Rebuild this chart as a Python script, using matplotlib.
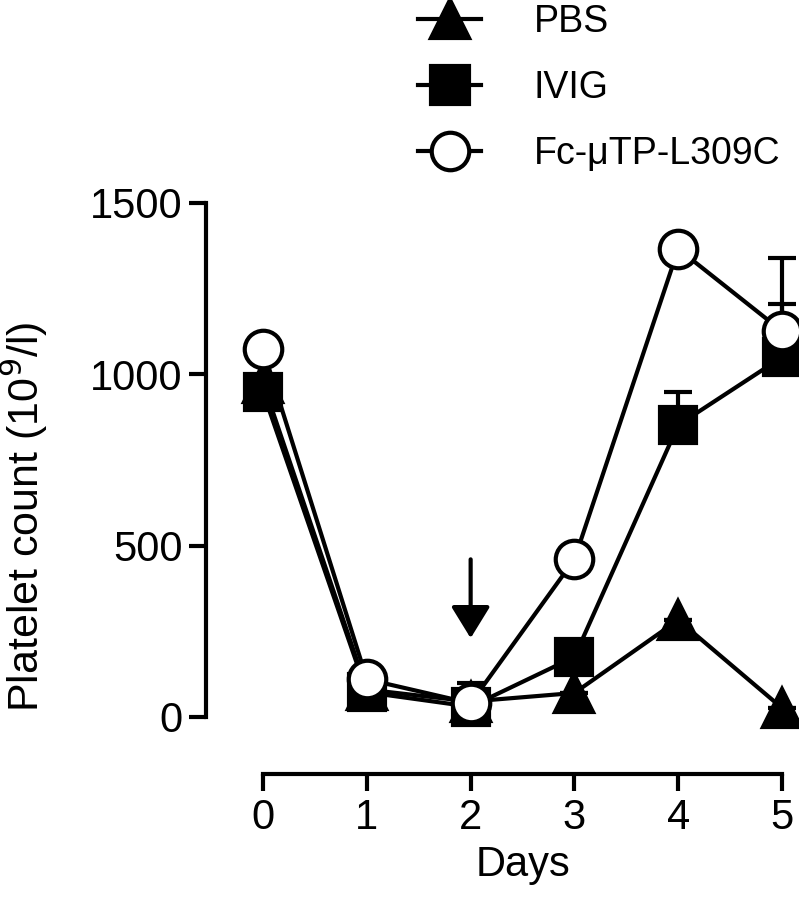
import matplotlib
matplotlib.use("Agg")
import matplotlib.pyplot as plt
import numpy as np

plt.rcParams['font.family'] = ['Liberation Sans', 'DejaVu Sans']

days = [0, 1, 2, 3, 4, 5]
pbs = [975, 80, 45, 70, 283, 26]
ivig = [948, 72, 30, 175, 852, 1050]
fc = [1073, 110, 40, 460, 1366, 1126]
# upper error bars only
pbs_err = [0, 0, 0, 0, 0, 0]
ivig_err = [0, 0, 0, 0, 95, 155]
fc_err = [0, 0, 60, 0, 0, 214]

fig = plt.figure(figsize=(7.99, 9.18), dpi=100)
ax = fig.add_axes([0.3292, 0.2190, 0.6496, 0.5599])

lw = 3.0
ms = 27
series = [(pbs, pbs_err, '^', 'black', 'PBS'),
          (ivig, ivig_err, 's', 'black', 'IVIG'),
          (fc, fc_err, 'o', 'white', 'Fc-\u03bcTP-L309C')]
for i, (vals, err, mk, fcol, lab) in enumerate(series):
    z = 3 + i
    ax.errorbar(days, vals, yerr=[np.zeros(len(err)), err], fmt='none',
                ecolor='black', elinewidth=lw, capsize=10, capthick=lw,
                zorder=z, clip_on=False)
    ax.plot(days, vals, color='black', lw=lw, marker=mk, markersize=ms if mk != 's' else ms * 0.95,
            markerfacecolor=fcol, markeredgecolor='black', markeredgewidth=lw,
            label=lab, zorder=z + 0.5, clip_on=False)

# treatment arrow at day 2
ax.annotate('', xy=(2, 230), xytext=(2, 460),
            arrowprops=dict(arrowstyle='-|>,head_width=0.4,head_length=0.65',
                            lw=3.0, color='black', mutation_scale=30,
                            shrinkA=0, shrinkB=0))

ax.set_xlim(0, 5)
ax.set_ylim(0, 1500)
ax.set_xticks(days)
ax.set_yticks([0, 500, 1000, 1500])
for s in ['top', 'right']:
    ax.spines[s].set_visible(False)
ax.spines['left'].set_position(('outward', 41))
ax.spines['bottom'].set_position(('outward', 41))
ax.spines['left'].set_linewidth(lw)
ax.spines['bottom'].set_linewidth(lw)
ax.tick_params(axis='both', width=lw, length=12, labelsize=30, pad=5)
ax.set_xlabel('Days', fontsize=30)
ax.set_ylabel('Platelet count (10$^{9}$/l)', fontsize=31)
ax.xaxis.set_label_coords(0.5, -0.249)
ax.yaxis.set_label_coords(-0.41, 0.39)

leg = fig.legend(loc='upper left', bbox_to_anchor=(0.504, 1.012), frameon=False,
                 fontsize=27, handlelength=1.7, handletextpad=1.4,
                 labelspacing=0.8, borderaxespad=0)
for h in leg.legend_handles:
    h.set_markersize(27)

fig.savefig('out.png', dpi=100)
